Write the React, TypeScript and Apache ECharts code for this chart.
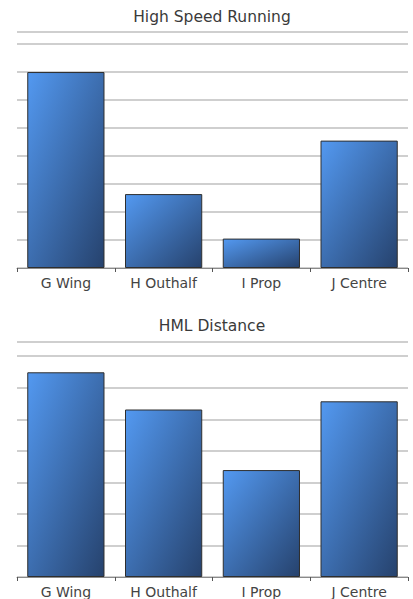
import React, { useEffect, useRef } from "react";
import * as echarts from "echarts";

const categories = ["G Wing", "H Outhalf", "I Prop", "J Centre"];
const titles = ["High Speed Running", "HML Distance"];
const highSpeedRunning = [7, 2.64, 1.05, 4.55];
const hmlDistance = [6.49, 5.31, 3.39, 5.57];
const axisMax = [8.43, 7.45];

export default function App() {
  const ref = useRef<HTMLDivElement>(null);
  useEffect(() => {
    if (!ref.current) return;
    const chart = echarts.init(ref.current, undefined, { renderer: "svg" });
    const barColor = new echarts.graphic.LinearGradient(0, 0, 1, 1, [
      { offset: 0, color: "#5399f1" },
      { offset: 1, color: "#26426d" },
    ]);
    const font = "'DejaVu Sans', 'Open Sans', sans-serif";
    const grids = [
      { left: 17, right: 5, top: 32, height: 236 },
      { left: 17, right: 5, top: 342, height: 236 },
    ];
    const seriesData = [highSpeedRunning, hmlDistance];
    chart.setOption({
      animation: false,
      backgroundColor: "#ffffff",
      title: titles.map((t, i) => ({
        text: t,
        left: 212,
        top: i === 0 ? 9 : 318,
        textAlign: "center",
        padding: 0,
        textStyle: { fontFamily: font, fontSize: 15.5, fontWeight: "normal", color: "#3a3a3a" },
      })),
      grid: grids,
      xAxis: grids.map((_, i) => ({
        type: "category",
        gridIndex: i,
        data: categories,
        axisLine: { lineStyle: { color: "#8a8a8a", width: 1 } },
        axisTick: { show: true, length: 4, lineStyle: { color: "#555" } },
        axisLabel: { fontFamily: font, fontSize: 14, color: "#444", margin: 8 },
      })),
      yAxis: grids.map((_, i) => ({
        type: "value",
        gridIndex: i,
        min: 0,
        max: axisMax[i],
        interval: 1,
        axisLine: { show: false },
        axisTick: { show: false },
        axisLabel: { show: false },
        splitLine: { show: true, lineStyle: { color: "#cfcfcf", width: 2 } },
      })),
      series: seriesData.map((d, i) => ({
        type: "bar",
        xAxisIndex: i,
        yAxisIndex: i,
        data: d,
        barCategoryGap: "21%",
        itemStyle: { color: barColor, borderColor: "#2e2e2e", borderWidth: 1 },
      })),
    });
    return () => chart.dispose();
  }, []);
  return (
    <div
      ref={ref}
      style={{ position: "fixed", left: 0, top: 0, width: 413, height: 599 }}
    />
  );
}
